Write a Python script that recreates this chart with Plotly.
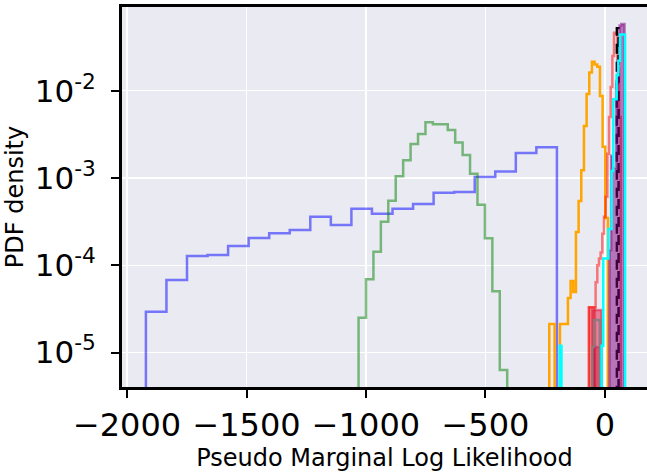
import plotly.graph_objects as go

# ---------------- data (bin edges / PDF densities) ----------------
blue_edges = [-1921 + 86 * k for k in range(21)]
blue_vals = [2.94e-5, 6.8e-5, 1.28e-4, 1.31e-4, 1.66e-4, 2.05e-4, 2.33e-4, 2.54e-4,
             3.6e-4, 2.9e-4, 4.45e-4, 3.9e-4, 4.45e-4, 5.04e-4, 6.8e-4, 6.9e-4,
             1.03e-3, 1.19e-3, 1.93e-3, 2.25e-3]

green_edges = [-1031 + 31.1 * k for k in range(21)]
green_vals = [2.51e-5, 6.92e-5, 1.43e-4, 3.16e-4, 5.49e-4, 1.05e-3, 1.60e-3, 2.45e-3,
              3.19e-3, 4.35e-3, 4.12e-3, 4.12e-3, 3.55e-3, 2.56e-3, 1.83e-3, 1.12e-3,
              4.94e-4, 2.04e-4, 5.04e-5, 6.32e-6]

orange_edges = [-233 + 11.16 * k for k in range(23)]
orange_vals = [2.13e-5, 2.13e-5, 0, 0, 2.13e-5, 2.13e-5, 2.13e-5, 4.22e-5, 6.6e-5,
               4.94e-5, 2.41e-4, 5.44e-4, 1.23e-3, 3.94e-3, 9.17e-3, 1.62e-2, 2.15e-2,
               2.0e-2, 1.88e-2, 8.7e-3, 2.28e-3, 3.48e-4]

red_edges = [-67 + 7 * k for k in range(20)]
red_vals = [3.3e-5, 3.3e-5, 3.3e-5, 3.3e-5, 6.4e-5, 1.0e-4, 1.2e-4, 1.4e-4, 2.3e-4,
            3.6e-4, 6.1e-4, 1.9e-3, 5.0e-3, 1.1e-2, 2.5e-2, 4.6e-2, 4.5e-2, 1.8e-2, 5.0e-3]

redfill_edges = [-67, -42]
redfill_vals = [3.3e-5]

crimson_edges = [-53, -14]
crimson_vals = [3.07e-5]

darkfill_edges = [-45, -14]
darkfill_vals = [1.16e-5]

gray_edges = [-53, -45, -21]
gray_vals = [1.16e-5, 2.36e-5]

black_edges = [50, 57]
black_vals = [5.2e-2]

purple_edges = [19 + 7 * k for k in range(10)]
purple_vals = [1.5e-4, 1.8e-3, 1.3e-3, 1.3e-3, 1.2e-2, 2.2e-2, 5.6e-2, 5.8e-2, 5.8e-2]

cyan_edges = [-189 + 7 * k for k in range(40)]
cyan_vals = [1.2e-5] + [0] * 24 + [1.2e-5, 1.2e-4, 1.2e-4, 1.2e-4, 2.6e-4, 2.6e-4,
                                   1.2e-3, 8e-3, 8e-3, 1.5e-2, 2.2e-2, 4.4e-2, 4.4e-2, 4.4e-2]

x_ticks = [-2000, -1500, -1000, -500, 0]
y_ticks = [1e-5, 1e-4, 1e-3, 1e-2]
y_tick_text = ["10<sup>-5</sup>", "10<sup>-4</sup>", "10<sup>-3</sup>", "10<sup>-2</sup>"]

FLOOR = 1e-9  # zero density drawn below the visible log range


def step_xy(edges, vals):
    v = [val if val > 0 else FLOOR for val in vals]
    xs = [edges[0]] + list(edges)
    ys = [FLOOR] + v + [FLOOR]
    return xs, ys


fig = go.Figure()


def add_step(edges, vals, color, width=2.5, fill=None, dash="solid"):
    xs, ys = step_xy(edges, vals)
    kw = dict(x=xs, y=ys, mode="lines",
              line=dict(color=color, width=width, shape="hv", dash=dash),
              hoverinfo="skip", showlegend=False)
    if fill:
        kw["fill"] = "toself"
        kw["fillcolor"] = fill
    fig.add_trace(go.Scatter(**kw))


add_step(blue_edges, blue_vals, "rgba(0,0,255,0.5)")
add_step(green_edges, green_vals, "rgba(0,128,0,0.5)")
add_step(orange_edges, orange_vals, "rgb(255,165,0)")
add_step(redfill_edges, redfill_vals, "rgba(255,0,0,0.4)", fill="rgba(255,0,0,0.4)")
add_step(crimson_edges, crimson_vals, "rgba(220,20,60,0.5)", fill="rgba(220,20,60,0.5)")
add_step(darkfill_edges, darkfill_vals, "rgba(200,0,50,0.35)", fill="rgba(200,0,50,0.35)")
add_step(gray_edges, gray_vals, "rgba(128,128,128,0.9)")
add_step(red_edges, red_vals, "rgba(255,0,0,0.5)")
add_step(black_edges, black_vals, "black", dash="10px,8px")
add_step(purple_edges, purple_vals, "rgba(128,0,128,0.5)", fill="rgba(128,0,128,0.5)")
add_step(cyan_edges, cyan_vals, "rgb(0,255,255)")

font_family = "DejaVu Sans, sans-serif"

fig.update_layout(
    width=647, height=473,
    margin=dict(l=122, r=0, t=7, b=86, autoexpand=False),
    paper_bgcolor="white",
    plot_bgcolor="#EAEAF2",
    font=dict(family=font_family, color="black"),
    showlegend=False,
    hovermode=False,
)

fig.update_xaxes(
    range=[-2021, 176],
    tickvals=x_ticks,
    tickfont=dict(size=32, family=font_family, color="black"),
    ticks="outside", ticklen=8, tickwidth=2, tickcolor="black",
    showline=True, linecolor="black", linewidth=3, mirror=True,
    showgrid=True, gridcolor="white", gridwidth=1.5,
    zeroline=False, automargin=False,
    title=dict(text="Pseudo Marginal Log Likelihood",
               font=dict(size=24, family=font_family, color="black"), standoff=0),
)

fig.update_yaxes(
    type="log",
    range=[-5.394, -1.041],
    tickvals=y_ticks, ticktext=y_tick_text,
    tickfont=dict(size=31, family=font_family, color="black"),
    ticks="outside", ticklen=8, tickwidth=2, tickcolor="black",
    ticklabelstandoff=9,
    showline=True, linecolor="black", linewidth=3, mirror=False,
    showgrid=True, gridcolor="white", gridwidth=1.5,
    zeroline=False, automargin=False,
    title=dict(text="PDF density",
               font=dict(size=24, family=font_family, color="black"), standoff=5),
)

fig.write_html("out.html",
               config={"displayModeBar": False, "staticPlot": True},
               post_script="document.body.style.margin='0';document.body.style.padding='0';")
